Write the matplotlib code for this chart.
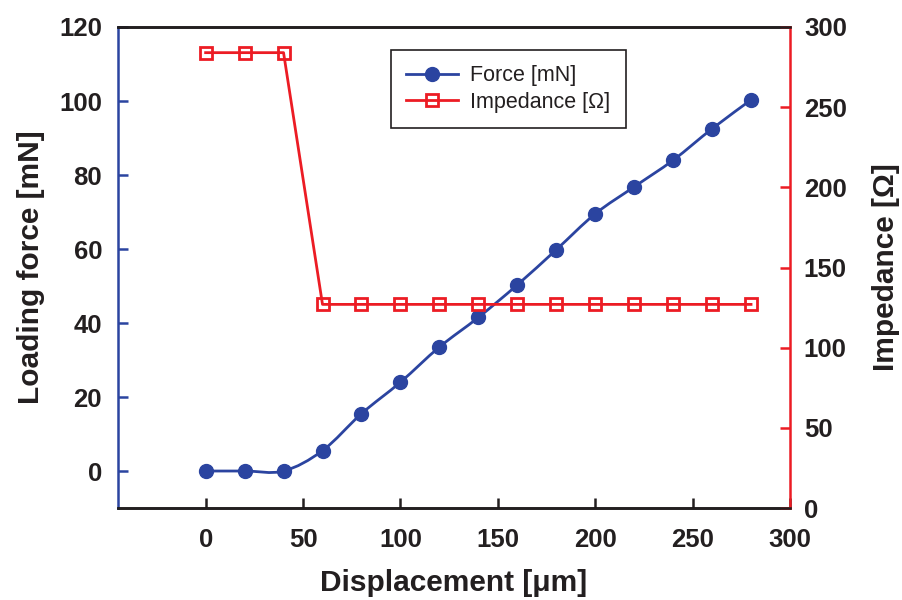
import matplotlib.pyplot as plt
import numpy as np
from matplotlib.path import Path
from matplotlib.patches import PathPatch
from matplotlib.lines import Line2D

# Data
displacement = [0, 20, 40, 60, 80, 100, 120, 140, 160, 180, 200, 220, 240, 260, 280]
force = [0.0, 0.0, 0.0, 5.5, 15.5, 24.0, 33.5, 41.5, 50.3, 59.8, 69.5, 76.8, 84.0, 92.5, 100.3]
impedance = [284, 284, 284, 127, 127, 127, 127, 127, 127, 127, 127, 127, 127, 127, 127]

blue = '#2b44a0'
red = '#ec1c24'
dark = '#231f20'

plt.rcParams['font.family'] = ['Liberation Sans', 'DejaVu Sans']

fig = plt.figure(figsize=(9.02, 6), dpi=100)
ax = fig.add_axes([0.1308, 0.1533, 0.745, 0.8017])
ax2 = ax.twinx()


def smooth_path(x, y):
    '''Bezier-kurve gjennom punktene (Catmull-Rom stil, som Excel)'''
    pts = np.column_stack([x, y]).astype(float)
    n = len(pts)
    verts = [pts[0]]
    codes = [Path.MOVETO]
    for i in range(n - 1):
        p0 = pts[max(i - 1, 0)]
        p1 = pts[i]
        p2 = pts[i + 1]
        p3 = pts[min(i + 2, n - 1)]
        c1 = p1 + (p2 - p0) / 6
        c2 = p2 - (p3 - p1) / 6
        verts += [c1, c2, p2]
        codes += [Path.CURVE4] * 3
    return Path(verts, codes)


# Force (left axis)
ax.add_patch(PathPatch(smooth_path(displacement, force), fill=False,
                       edgecolor=blue, lw=2, zorder=3))
ax.plot(displacement, force, 'o', color=blue, ms=10, zorder=4)

# Impedance (right axis)
ax2.plot(displacement, impedance, '-s', color=red, lw=2, ms=8,
         mfc='none', mec=red, mew=2)

ax.set_xlim(-45, 300)
ax.set_ylim(-10, 120)
ax2.set_ylim(0, 300)

ax.set_xticks(np.arange(0, 301, 50))
ax.set_yticks(np.arange(0, 121, 20))
ax2.set_yticks(np.arange(0, 301, 50))

for a in (ax, ax2):
    for s in a.spines.values():
        s.set_linewidth(1.8)
ax.spines['left'].set_color(blue)
ax.spines['right'].set_visible(False)
ax2.spines['left'].set_visible(False)
ax2.spines['right'].set_color(red)
ax2.spines['top'].set_color(dark)
ax2.spines['bottom'].set_color(dark)

ax.tick_params(axis='x', direction='in', length=7, width=1.8, color=dark,
               labelsize=18.5, pad=14.5)
ax.tick_params(axis='y', direction='in', length=7, width=1.8, color=blue,
               labelsize=18.5, pad=11.5)
ax2.tick_params(axis='y', direction='in', length=7, width=1.8, color=red,
                labelsize=18.5, pad=10)
for lab in ax.get_xticklabels() + ax.get_yticklabels() + ax2.get_yticklabels():
    lab.set_fontweight('bold')
    lab.set_color(dark)

ax.set_xlabel('Displacement [μm]', fontsize=21.5, fontweight='bold',
              labelpad=12, color=dark)
ax.set_ylabel('Loading force [mN]', fontsize=21.5, fontweight='bold',
              labelpad=10, color=dark)
ax2.set_ylabel('Impedance [Ω]', fontsize=21.5, fontweight='bold',
               labelpad=18, color=dark)

# Legend
handles = [Line2D([], [], color=blue, lw=2, marker='o', ms=10),
           Line2D([], [], color=red, lw=2, marker='s', ms=8, mfc='none', mew=2)]
leg = ax2.legend(handles, ['Force [mN]', 'Impedance [Ω]'], loc='upper left',
                 bbox_to_anchor=(0.406, 0.952), borderaxespad=0,
                 fontsize=15.5, fancybox=False,
                 framealpha=1, edgecolor=dark, borderpad=0.7,
                 handlelength=2.4, handletextpad=0.6, labelspacing=0.25)
leg.get_frame().set_linewidth(1.2)
for t in leg.get_texts():
    t.set_color(dark)

plt.savefig('out.png', dpi=100)
